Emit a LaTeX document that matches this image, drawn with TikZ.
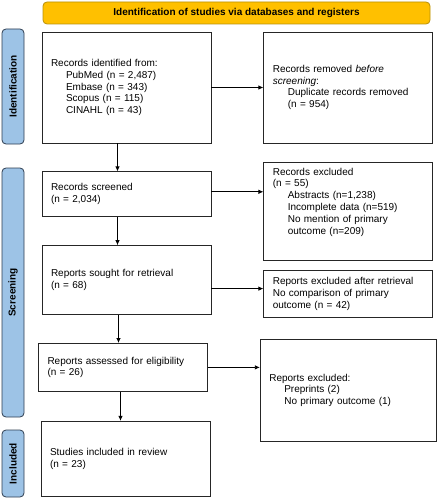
\documentclass[tikz,border=0pt]{standalone}
\usepackage{fontspec}
\setmainfont{Liberation Sans}
\usetikzlibrary{arrows.meta, positioning}
\definecolor{bannergold}{HTML}{FFC000}
\definecolor{bannerline}{HTML}{B8900A}
\definecolor{phaseblue}{HTML}{9DC3E6}
\definecolor{phaseline}{HTML}{2E3D50}
\newcommand{\indt}{\hspace*{15pt}}
\tikzset{> = { Latex[length = 5pt, width = 4.5pt] }}

\begin{document}
\begin{tikzpicture}[x = 1pt, y = -1pt, ->, line width = 0.8pt,
    box/.style = { draw = black!85, text width = 151pt, inner xsep = 9pt, inner ysep = 5pt, align = left, font = \fontsize{10}{11.8}\selectfont },
    phase/.style = { draw = phaseline, fill = phaseblue, rounded corners = 4pt, rotate = 90, minimum height = 22pt, inner sep = 0pt, font = \fontsize{10}{12}\selectfont\bfseries },
    banner/.style = { draw = bannerline, fill = bannergold, rounded corners = 4pt, minimum width = 387pt, minimum height = 22pt, inner sep = 0pt, font = \fontsize{10}{12}\selectfont\bfseries }]
    \useasboundingbox (0, 0) rectangle (437, 500);

    \node [banner] (title) at (236.5, 13) {Identification of studies via databases and registers};

    \node [phase, minimum width = 115pt] (phaseid)  at (13, 86.5)  {Identification};
    \node [phase, minimum width = 249pt] (phasescr) at (13, 292.5) {Screening};
    \node [phase, minimum width = 67pt]  (phaseinc) at (13, 463.5) {Included};

    \node [box, minimum height = 111pt] (identified) at (126.5, 87.5) {Records identified from:\\ \indt PubMed (n = 2,487)\\ \indt Embase (n = 343)\\ \indt Scopus (n = 115)\\ \indt CINAHL (n = 43)};
    \node [box, minimum height = 111pt, right = 52pt of identified] (removed) {Records removed \textit{before}\\ \textit{screening}:\\ \indt Duplicate records removed\\ \indt (n = 954)};

    \node [box, minimum height = 45pt, below = 28pt of identified] (screened) {Records screened\\ (n = 2,034)};
    \node [box, below = 19pt of removed] (excluded) {\parbox[c][88pt][t]{151pt}{Records excluded\\ (n = 55)\\ \indt Abstracts (n=1,238)\\ \indt Incomplete data (n=519)\\ \indt No mention of primary\\ \indt outcome (n=209)}};

    \node [box, minimum height = 69pt, below = 28pt of screened] (sought) {Reports sought for retrieval\\ (n = 68)};
    \node [box, minimum height = 47pt, below = 9pt of excluded] (notretrieved) {Reports excluded after retrieval\\ No comparison of primary\\ outcome (n = 42)};

    \node [box, minimum height = 48pt, below = 28pt of sought, xshift = -3.5pt] (assessed) {Reports assessed for eligibility\\ (n = 26)};
    \node [box, text width = 158pt, minimum height = 102pt, below = 21pt of notretrieved] (ineligible) {Reports excluded:\\ \indt Preprints (2)\\ \indt No primary outcome (1)};

    \node [box, minimum height = 75pt, below = 29pt of assessed, xshift = 2.5pt] (included) {Studies included in review\\ (n = 23)};

    \draw ([xshift = -9pt]identified.south) -- ([xshift = -9pt]identified.south |- screened.north);
    \draw ([xshift = -9pt]screened.south) -- ([xshift = -9pt]screened.south |- sought.north);
    \draw ([xshift = -8pt]sought.south) -- ([xshift = -8pt]sought.south |- assessed.north);
    \draw ([xshift = -2.5pt]assessed.south) -- ([xshift = -2.5pt]assessed.south |- included.north);

    \draw (identified) -- (removed);
    \draw ([yshift = 2.5pt]screened.east) -- ([yshift = 2.5pt]screened.east -| excluded.west);
    \draw ([yshift = -8.5pt]sought.east) -- ([yshift = -8.5pt]sought.east -| notretrieved.west);
    \draw (assessed.east) -- (assessed.east -| ineligible.west);
\end{tikzpicture}
\end{document}
